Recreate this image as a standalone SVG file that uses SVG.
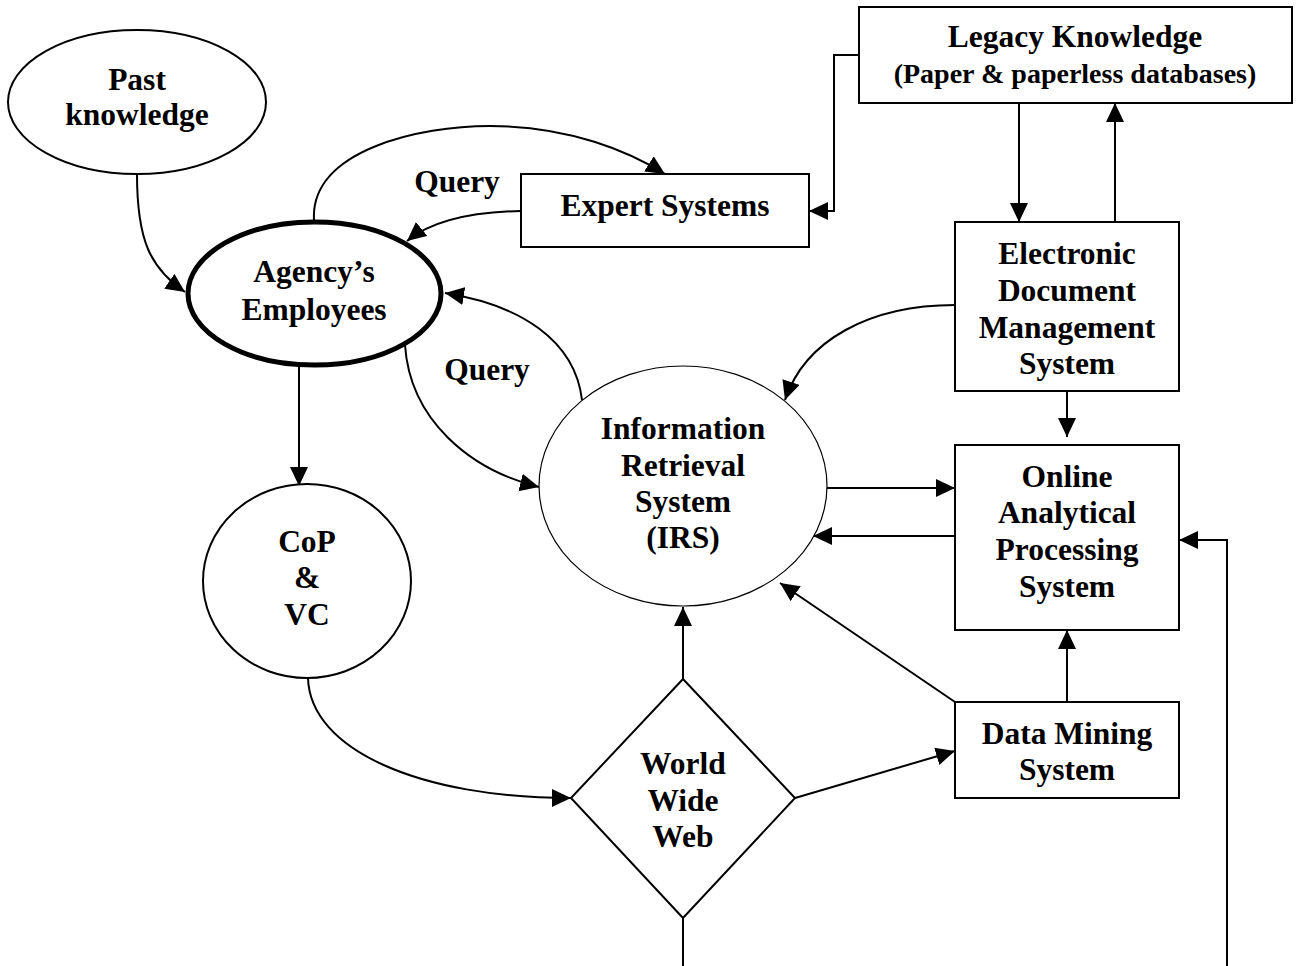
<svg xmlns="http://www.w3.org/2000/svg" width="1298" height="966" viewBox="0 0 1298 966">
  <defs>
    <marker id="arrow" markerUnits="userSpaceOnUse" markerWidth="20" markerHeight="20" refX="19" refY="9" orient="auto">
      <path d="M0,0 L19,9 L0,18 Z" fill="#000"/>
    </marker>
    <style>
      .lbl { font-family: "Liberation Serif", "Times New Roman", serif; font-weight: bold; font-size: 31.5px; fill: #000; text-anchor: middle; }
      .sub { font-size: 28px; }
      .box { fill: #fff; stroke: #000; stroke-width: 2; }
      .thin { fill: #fff; stroke: #000; stroke-width: 1.2; }
      .thick { fill: #fff; stroke: #000; stroke-width: 5; }
      .edge { fill: none; stroke: #000; stroke-width: 2; }
      .arr { marker-end: url(#arrow); }
    </style>
  </defs>
  <rect width="1298" height="966" fill="#fff"/>

  <!-- connectors -->
  <g id="connectors">
    <path class="edge arr" d="M137,174 C137,240 150,268 185,292"/>
    <path class="edge arr" d="M314,220 C310,150 420,126 490,126 C570,126 630,152 665,174"/>
    <path class="edge arr" d="M521,211 C470,212 430,222 407,241"/>
    <path class="edge arr" d="M859,55 H834 V211 H809"/>
    <path class="edge arr" d="M1019,103 V222"/>
    <path class="edge arr" d="M1115,222 V103"/>
    <path class="edge arr" d="M955,305 C870,305 805,340 785,400"/>
    <path class="edge arr" d="M1067,391 V437"/>
    <path class="edge arr" d="M827,488 H955"/>
    <path class="edge arr" d="M955,536 H813"/>
    <path class="edge arr" d="M1227,966 V540 H1179"/>
    <path class="edge arr" d="M1067,702 V630"/>
    <path class="edge arr" d="M955,702 L780,583"/>
    <path class="edge arr" d="M795,798 L955,751"/>
    <path class="edge arr" d="M683,679 V607"/>
    <path class="edge arr" d="M308,678 C310,750 420,798 571,798"/>
    <path class="edge" d="M683,918 V966"/>
    <path class="edge arr" d="M299,365 V486"/>
    <path class="edge arr" d="M405,345 C410,420 470,470 539,487"/>
    <path class="edge arr" d="M582,400 C575,340 520,305 445,293"/>
  </g>

  <g id="past-knowledge">
    <ellipse class="box" cx="137" cy="102" rx="129" ry="72"/>
    <text class="lbl" x="137" y="90">Past</text>
    <text class="lbl" x="137" y="125">knowledge</text>
  </g>

  <g id="agency-employees">
    <ellipse class="thick" cx="314.5" cy="293.5" rx="126.5" ry="71.5"/>
    <text class="lbl" x="314" y="282">Agency’s</text>
    <text class="lbl" x="314" y="320">Employees</text>
  </g>

  <g id="query-labels">
    <text class="lbl" x="457" y="192">Query</text>
    <text class="lbl" x="487" y="380">Query</text>
  </g>

  <g id="expert-systems">
    <rect class="box" x="521" y="174" width="288" height="73"/>
    <text class="lbl" x="665" y="216">Expert Systems</text>
  </g>

  <g id="legacy-knowledge">
    <rect class="box" x="859" y="7" width="433" height="96"/>
    <text class="lbl" x="1075" y="47">Legacy Knowledge</text>
    <text class="lbl sub" x="1075" y="83">(Paper &amp; paperless databases)</text>
  </g>

  <g id="edms">
    <rect class="box" x="955" y="222" width="224" height="169"/>
    <text class="lbl" x="1067" y="264">Electronic</text>
    <text class="lbl" x="1067" y="301">Document</text>
    <text class="lbl" x="1067" y="338">Management</text>
    <text class="lbl" x="1067" y="374">System</text>
  </g>

  <g id="irs">
    <ellipse class="thin" cx="683" cy="486" rx="144" ry="120"/>
    <text class="lbl" x="683" y="439">Information</text>
    <text class="lbl" x="683" y="476">Retrieval</text>
    <text class="lbl" x="683" y="512">System</text>
    <text class="lbl" x="683" y="548">(IRS)</text>
  </g>

  <g id="olap">
    <rect class="box" x="955" y="445" width="224" height="185"/>
    <text class="lbl" x="1067" y="487">Online</text>
    <text class="lbl" x="1067" y="523">Analytical</text>
    <text class="lbl" x="1067" y="560">Processing</text>
    <text class="lbl" x="1067" y="597">System</text>
  </g>

  <g id="cop-vc">
    <ellipse class="box" cx="307" cy="581" rx="104" ry="97"/>
    <text class="lbl" x="307" y="552">CoP</text>
    <text class="lbl" x="307" y="588">&amp;</text>
    <text class="lbl" x="307" y="625">VC</text>
  </g>

  <g id="world-wide-web">
    <polygon class="box" points="683,679 795,798 683,918 571,798"/>
    <text class="lbl" x="683" y="774">World</text>
    <text class="lbl" x="683" y="811">Wide</text>
    <text class="lbl" x="683" y="847">Web</text>
  </g>

  <g id="data-mining">
    <rect class="box" x="955" y="702" width="224" height="96"/>
    <text class="lbl" x="1067" y="744">Data Mining</text>
    <text class="lbl" x="1067" y="780">System</text>
  </g>
</svg>
